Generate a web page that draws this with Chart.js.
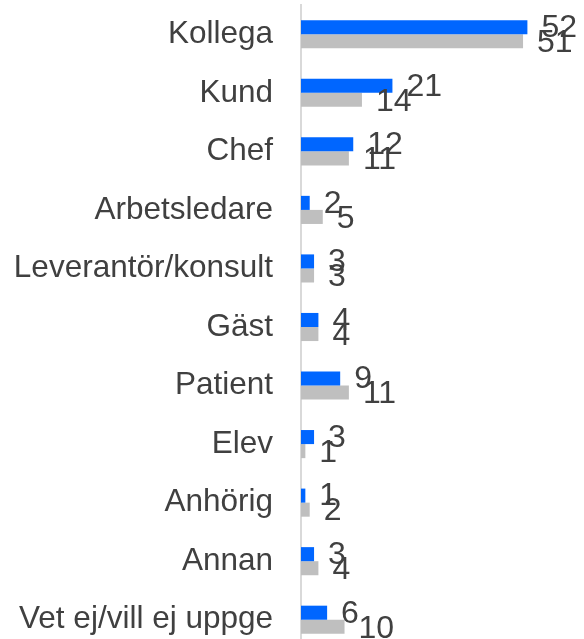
<!DOCTYPE html>
<html>
<head>
<meta charset="utf-8">
<script src="https://cdn.jsdelivr.net/npm/chart.js@4/dist/chart.umd.min.js"></script>
<style>
html,body{margin:0;padding:0;background:#fff;overflow:hidden;}
#wrap{width:584px;height:649px;position:relative;}
canvas{display:block;}
</style>
</head>
<body>
<div id="wrap"><canvas id="c"></canvas></div>
<script>
const categories = ["Kollega","Kund","Chef","Arbetsledare","Leverantör/konsult","Gäst","Patient","Elev","Anhörig","Annan","Vet ej/vill ej uppge"];
const seriesBlue = [52,21,12,2,3,4,9,3,1,3,6];
const seriesGray = [51,14,11,5,3,4,11,1,2,4,10];

const FONT = '"Liberation Sans", Arial, sans-serif';
const TEXT = '#404040';

const labelPlugin = {
  id: 'valueLabels',
  afterDatasetsDraw(chart) {
    const ctx = chart.ctx;
    ctx.save();
    ctx.font = '32px ' + FONT;
    ctx.fillStyle = TEXT;
    ctx.textAlign = 'left';
    ctx.textBaseline = 'middle';
    chart.data.datasets.forEach((ds, di) => {
      const meta = chart.getDatasetMeta(di);
      meta.data.forEach((el, i) => {
        ctx.fillText(String(ds.data[i]), el.x + 14, el.y + (di === 0 ? 1 : 2));
      });
    });
    ctx.restore();
  }
};

new Chart(document.getElementById('c'), {
  type: 'bar',
  data: {
    labels: categories,
    datasets: [
      { data: seriesBlue, backgroundColor: '#0066FF', barPercentage: 1, categoryPercentage: 0.48 },
      { data: seriesGray, backgroundColor: '#BFBFBF', barPercentage: 1, categoryPercentage: 0.48 }
    ]
  },
  options: {
    indexAxis: 'y',
    responsive: true,
    maintainAspectRatio: false,
    animation: false,
    devicePixelRatio: 1,
    layout: { padding: { top: 5, bottom: 0, left: 0, right: 0 } },
    plugins: { legend: { display: false }, tooltip: { enabled: false } },
    scales: {
      x: { display: false, min: 0, max: 65 },
      y: {
        afterFit(scale) { scale.width = 301; scale.paddingTop = 0; scale.paddingBottom = 0; },
        grid: { display: false, drawTicks: false },
        border: { display: true, color: '#D9D9D9', width: 2 },
        ticks: { color: TEXT, font: { family: FONT, size: 31.5 }, padding: 28 }
      }
    }
  },
  plugins: [labelPlugin]
});
</script>
</body>
</html>
